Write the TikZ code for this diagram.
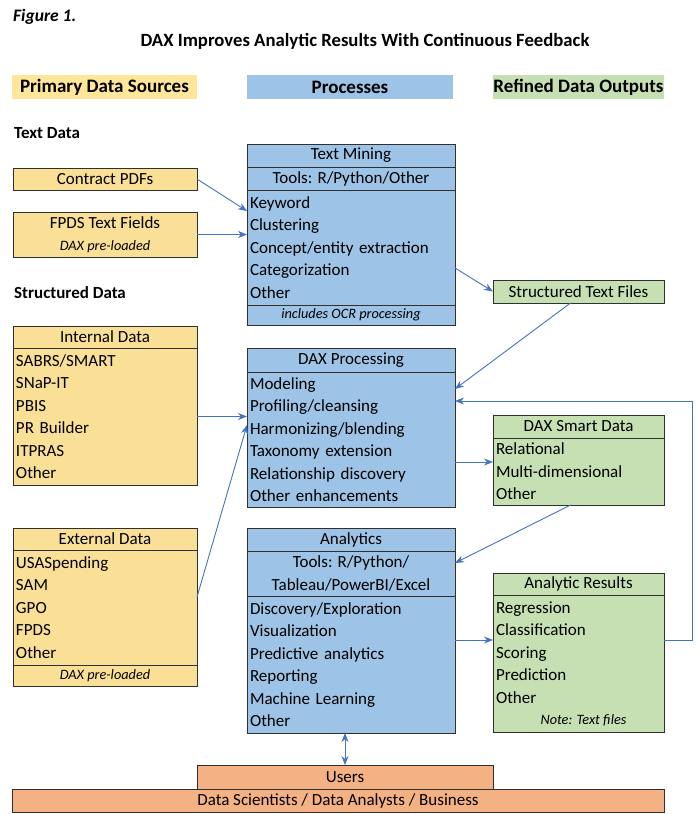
\documentclass[tikz,border=0pt]{standalone}
\usepackage{fontspec}
\setmainfont{Carlito}
\usepackage{tikz}
\usetikzlibrary{arrows.meta,positioning}
\definecolor{edge}{HTML}{303030}
\definecolor{srcfill}{HTML}{FAE096}
\definecolor{procfill}{HTML}{9DC3E6}
\definecolor{outfill}{HTML}{C6E0B4}
\definecolor{userfill}{HTML}{F4B183}
\definecolor{srcbar}{HTML}{FFE699}
\definecolor{arrowblue}{HTML}{4472C4}
\newcommand{\boxfont}{\fontsize{17pt}{22.5pt}\selectfont}
\newcommand{\notefont}{\fontsize{14.3pt}{16pt}\selectfont\itshape}

\begin{document}
\begin{tikzpicture}[
  x=1pt, y=-1pt,
  >={Stealth[length=9pt, width=7pt]},
  cell/.style={draw=edge, line width=0.9pt, outer sep=0pt, inner sep=0pt,
               font=\boxfont, align=center},
  rows/.style={cell, align=left, inner xsep=3pt},
  src/.style={fill=srcfill, minimum width=184pt},
  proc/.style={fill=procfill, minimum width=208pt},
  outp/.style={fill=outfill, minimum width=171pt},
  srclist/.style={rows, src, text width=178pt},
  proclist/.style={rows, proc, text width=202pt},
  outlist/.style={rows, outp, text width=165pt},
  bar/.style={minimum height=24pt, inner sep=0pt,
              font=\bfseries\fontsize{19pt}{21pt}\selectfont},
  group/.style={anchor=west, inner sep=0pt,
                font=\bfseries\fontsize{17pt}{19pt}\selectfont},
  flow/.style={->, draw=arrowblue, line width=0.9pt}]
\path[use as bounding box, fill=white] (0,0) rectangle (696,814);

\node[anchor=west, inner sep=0pt, font=\bfseries\itshape\fontsize{17.5pt}{19pt}\selectfont] (fig) at (13,17) {Figure 1.};
\node[font=\bfseries\fontsize{18.7pt}{21pt}\selectfont] (title) at (365,41) {DAX Improves Analytic Results With Continuous Feedback};

\node[bar, fill=srcbar, minimum width=185pt] (hsrc) at (104.5,87) {Primary Data Sources};
\node[bar, fill=procfill, minimum width=206pt] (hproc) at (350,87) {Processes};
\node[bar, fill=outfill, minimum width=171pt] (hout) at (578.5,87) {Refined Data Outputs};

\node[group] (gtext) at (14,133) {Text Data};
\node[group] (gstruct) at (14,293) {Structured Data};

\node[cell, src, minimum height=22pt] (pdfs) at (105,179) {Contract PDFs};
\node[cell, src, minimum height=45pt] (fpds) at (105,234.5) {FPDS Text Fields\\{\notefont DAX pre-loaded}};

\node[cell, proc, minimum height=23pt, anchor=north] (tmhead) at (351,144) {Text Mining};
\node[cell, proc, minimum height=23pt, below=0pt of tmhead] (tmtools) {Tools: R/Python/Other};
\node[proclist, minimum height=115pt, below=0pt of tmtools] (tmlist) {Keyword\\Clustering\\Concept/entity extraction\\Categorization\\Other};
\node[cell, proc, minimum height=20pt, below=0pt of tmlist, font=\notefont] (tmfoot) {includes OCR processing};

\node[cell, outp, minimum height=23pt] (stf) at (578.5,291.5) {Structured Text Files};

\node[cell, src, minimum height=22pt, anchor=north] (inhead) at (105,326) {Internal Data};
\node[srclist, minimum height=137pt, below=0pt of inhead] (inlist) {SABRS/SMART\\SNaP-IT\\PBIS\\PR Builder\\ITPRAS\\Other};

\node[cell, proc, minimum height=24pt, anchor=north] (dxhead) at (351,348) {DAX Processing};
\node[proclist, minimum height=135pt, below=0pt of dxhead] (dxlist) {Modeling\\Profiling/cleansing\\Harmonizing/blending\\Taxonomy extension\\Relationship discovery\\Other enhancements};

\node[cell, outp, minimum height=23pt, anchor=north] (sdhead) at (578.5,415) {DAX Smart Data};
\node[outlist, minimum height=67pt, below=0pt of sdhead] (sdlist) {Relational\\Multi-dimensional\\Other};

\node[cell, src, minimum height=22pt, anchor=north] (exhead) at (105,528) {External Data};
\node[srclist, minimum height=115pt, below=0pt of exhead] (exlist) {USASpending\\SAM\\GPO\\FPDS\\Other};
\node[cell, src, minimum height=21pt, below=0pt of exlist, font=\notefont] (exfoot) {DAX pre-loaded};

\node[cell, proc, minimum height=23pt, anchor=north] (anhead) at (351,528) {Analytics};
\node[cell, proc, minimum height=45pt, below=0pt of anhead] (antools) {Tools: R/Python/\\Tableau/PowerBI/Excel};
\node[proclist, minimum height=137pt, below=0pt of antools] (anlist) {Discovery/Exploration\\Visualization\\Predictive analytics\\Reporting\\Machine Learning\\Other};

\node[cell, outp, minimum height=22pt, anchor=north] (arhead) at (578.5,573) {Analytic Results};
\node[outlist, minimum height=137pt, below=0pt of arhead] (arlist) {Regression\\Classification\\Scoring\\Prediction\\Other\\\mbox{}};
\node[font=\notefont, inner sep=0pt] (arnote) at ([xshift=5pt, yshift=12pt]arlist.south) {Note: Text files};

\node[cell, fill=userfill, minimum width=296pt, minimum height=24pt] (users) at (345,777) {Users};
\node[cell, fill=userfill, minimum width=652pt, minimum height=23pt] (staff) at (338,800.5) {Data Scientists / Data Analysts / Business};

\coordinate (sdin) at ([yshift=-24pt]sdlist.north west);
\coordinate (arin) at ([yshift=-45pt]arlist.north west);
\draw[flow] (pdfs.east) -- ([yshift=-21pt]tmlist.north west);
\draw[flow] (fpds.east) -- (fpds.east -| tmlist.west);
\draw[flow] ([yshift=-78pt]tmlist.north east) -- (stf.west);
\draw[flow] ([xshift=-8pt]stf.south) -- ([yshift=-17pt]dxlist.north east);
\draw[flow] ([yshift=-45pt]arlist.north east) -- ++(28,0) |- ([yshift=-29pt]dxlist.north east);
\draw[flow] (inlist.east) -- (inlist.east -| dxlist.west);
\draw[flow] ([yshift=-47pt]exlist.north east) -- ([yshift=-53pt]dxlist.north west);
\draw[flow] (sdin -| dxlist.east) -- (sdin);
\draw[flow] ([xshift=-8pt]sdlist.south) -- ([yshift=-12pt]antools.north east);
\draw[flow] (arin -| anlist.east) -- (arin);
\draw[flow, <->] (users.north) -- (users.north |- anlist.south);
\end{tikzpicture}
\end{document}
